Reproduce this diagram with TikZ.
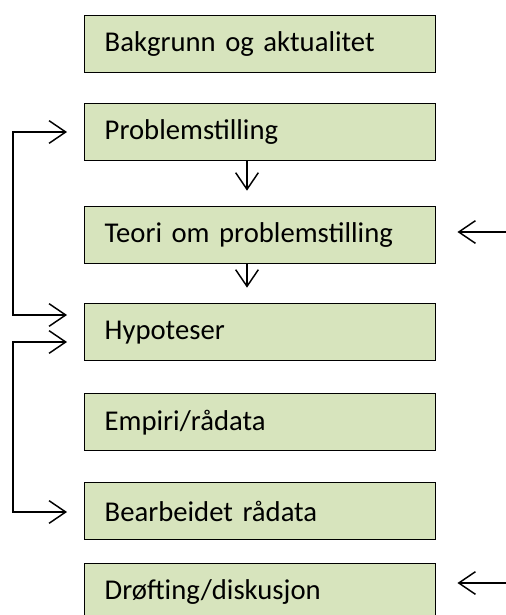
\documentclass[tikz,border=0pt]{standalone}
\usepackage{fontspec}
\setmainfont{Carlito}
\usetikzlibrary{arrows.meta}
\definecolor{boxgreen}{HTML}{D7E4BD}

\begin{document}
\begin{tikzpicture}[
    x=0.75pt, y=-0.75pt,
    box/.style={draw=black, line width=1.1pt, fill=boxgreen, anchor=north west,
        minimum width=263.25pt, minimum height=42.75pt, inner xsep=15pt,
        text width=233.25pt, align=left, font=\fontsize{21.5}{25}\selectfont},
    arr/.style={line width=1.1pt, -{Straight Barb[length=12.5pt, width=17pt]}},
    loop/.style={line width=1.1pt, {Straight Barb[length=12.5pt, width=17pt]}-{Straight Barb[length=12.5pt, width=17pt]}}
]
    \useasboundingbox (0,0) rectangle (506,615);
    \node[box] (bakgrunn) at (84,15) {Bakgrunn og aktualitet};
    \node[box] (problem) at (84,103) {Problemstilling};
    \node[box] (teori) at (84,206) {Teori om problemstilling};
    \node[box] (hypo) at (84,303) {Hypoteser};
    \node[box] (empiri) at (84,393) {Empiri/rådata};
    \node[box] (bearb) at (84,482) {Bearbeidet rådata};
    \node[box] (drofting) at (84,563) {Drøfting/diskusjon};
    % inputs from the right
    \coordinate (tin) at (506,232);
    \coordinate (din) at (506,583);
    \draw[arr, shorten >=15.75pt] (tin) -- (teori.east |- tin);
    \draw[arr, shorten >=15.75pt] (din) -- (drofting.east |- din);
    % downward steps
    \draw[arr, shorten >=11.5pt] (247,0 |- problem.south) -- (247,0 |- teori.north);
    \draw[arr, shorten >=11.5pt] (247,0 |- teori.south) -- (247,0 |- hypo.north);
    % feedback loops on the left
    \draw[loop, shorten <=12.75pt, shorten >=12.75pt]
        (hypo.west |- 0,315) -- (13,315) -- (13,132) -- (problem.west |- 0,132);
    \draw[loop, shorten <=12.75pt, shorten >=12.75pt]
        (hypo.west |- 0,342) -- (13,342) -- (13,512) -- (bearb.west |- 0,512);
\end{tikzpicture}
\end{document}
